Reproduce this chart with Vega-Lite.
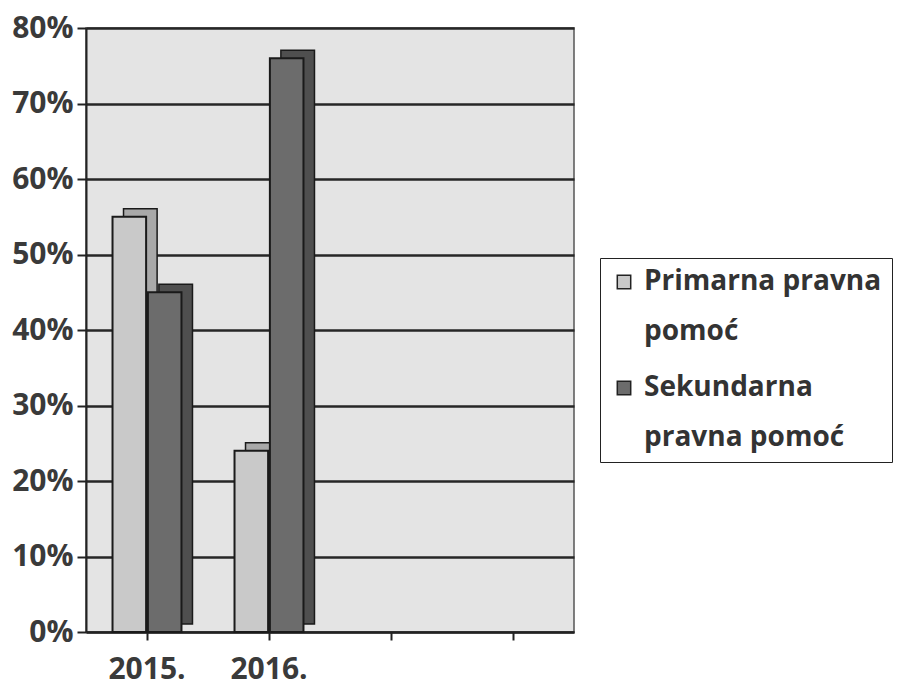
{
  "$schema": "https://vega.github.io/schema/vega-lite/v6.json",
  "width": 488,
  "height": 604,
  "autosize": {"type": "none"},
  "padding": {"left": 86, "top": 28, "right": 327, "bottom": 55},
  "background": "white",
  "config": {
    "font": "Open Sans",
    "view": {"fill": "#e4e4e4", "stroke": "#555", "strokeWidth": 1.5},
    "style": {"guide-label": {"lineHeight": 50}},
    "axis": {"labelFont": "Open Sans", "labelFontWeight": "bold", "labelColor": "#3a3a3a", "domainColor": "#222", "tickColor": "#222", "domainWidth": 2, "tickWidth": 2}
  },
  "data": {
    "values": [
      {"year": "2015.", "series": "Primarna pravna pomoć", "value": 0.55},
      {"year": "2015.", "series": "Sekundarna pravna pomoć", "value": 0.45},
      {"year": "2016.", "series": "Primarna pravna pomoć", "value": 0.24},
      {"year": "2016.", "series": "Sekundarna pravna pomoć", "value": 0.76}
    ]
  },
  "encoding": {
    "x": {
      "field": "year", "type": "nominal",
      "scale": {"domain": ["2015.", "2016.", "e1", "e2"], "paddingInner": 0, "paddingOuter": 0},
      "axis": {"title": null, "labelAngle": 0, "labelFontSize": 30, "labelPadding": 14, "tickSize": 8, "labelExpr": "datum.value == 'e1' || datum.value == 'e2' ? '' : datum.value", "grid": false}
    },
    "y": {
      "field": "value", "type": "quantitative",
      "scale": {"domain": [0, 0.8]},
      "axis": {"title": null, "format": ".0%", "values": [0, 0.1, 0.2, 0.3, 0.4, 0.5, 0.6, 0.7, 0.8], "labelOverlap": false, "labelFontSize": 30, "labelPadding": 4, "tickSize": 9, "grid": true, "gridColor": "#262626", "gridWidth": 2.5}
    }
  },
  "layer": [
    {
      "mark": {"type": "bar", "yOffset": -8, "y2Offset": -8, "stroke": "#1a1a1a", "strokeWidth": 1.5},
      "encoding": {
        "xOffset": {"field": "series", "type": "nominal", "scale": {"range": [11, 133], "paddingInner": 0.05, "paddingOuter": 0.75}},
        "color": {"field": "series", "type": "nominal", "legend": null,
          "scale": {"domain": ["Primarna pravna pomoć", "Sekundarna pravna pomoć"], "range": ["#a9a9a9", "#4f4f4f"]}}
      }
    },
    {
      "mark": {"type": "bar", "stroke": "#1a1a1a", "strokeWidth": 2},
      "encoding": {
        "xOffset": {"field": "series", "type": "nominal", "scale": {"range": [0, 122], "paddingInner": 0.05, "paddingOuter": 0.75}},
        "color": {"field": "series", "type": "nominal",
          "scale": {"domain": ["Primarna pravna pomoć", "Sekundarna pravna pomoć"], "range": ["#c9c9c9", "#6c6c6c"]},
          "legend": {
            "title": null, "orient": "none", "legendX": 514, "legendY": 230,
            "strokeColor": "#222", "padding": 10, "symbolType": "square", "symbolSize": 180,
            "symbolStrokeColor": "#222", "symbolStrokeWidth": 1.5,
            "labelFontSize": 28, "labelFontWeight": "bold", "labelColor": "#333", "labelFont": "Open Sans",
            "labelLimit": 400, "rowPadding": 28, "labelOffset": 6,
            "labelExpr": "datum.label == 'Primarna pravna pomoć' ? ['Primarna pravna', 'pomoć'] : ['Sekundarna', 'pravna pomoć']"
          }
        }
      }
    }
  ],
  "resolve": {"scale": {"color": "independent", "xOffset": "independent"}}
}
